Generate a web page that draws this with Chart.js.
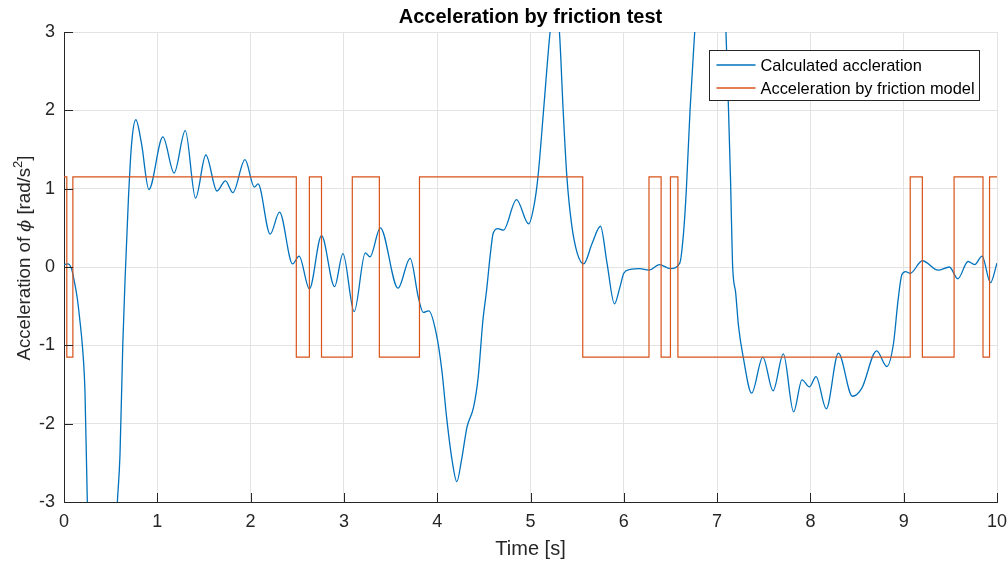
<!DOCTYPE html>
<html>
<head>
<meta charset="utf-8">
<script src="https://cdn.jsdelivr.net/npm/chart.js@4.4.1/dist/chart.umd.min.js"></script>
<style>
  html, body { margin: 0; padding: 0; background: #fff; }
  #wrap { width: 1008px; height: 565px; }
</style>
</head>
<body>
<div id="wrap"><canvas id="accelChart" width="1008" height="565"></canvas></div>
<script>
// calculated acceleration, sampled at the turning points of the signal
const timeCalc = [
  0.00, 0.04, 0.08, 0.11, 0.14, 0.17, 0.20, 0.225, 0.25, 0.30, 0.40, 0.50,
  0.572, 0.60, 0.63, 0.654, 0.69, 0.725, 0.77, 0.83, 0.91, 1.06, 1.18, 1.30,
  1.41, 1.52, 1.64, 1.73, 1.81, 1.94, 2.04, 2.08, 2.21, 2.31, 2.45, 2.52,
  2.63, 2.76, 2.90, 2.99, 3.11, 3.23, 3.28, 3.39, 3.58, 3.71, 3.80, 3.85,
  3.91, 3.99, 4.05, 4.10, 4.16, 4.21, 4.26, 4.32, 4.39, 4.44, 4.49, 4.53,
  4.57, 4.60, 4.65, 4.71, 4.85, 4.98, 5.04, 5.08, 5.14, 5.21, 5.26, 5.31,
  5.35, 5.39, 5.44, 5.50, 5.57, 5.66, 5.75, 5.82, 5.90, 5.96, 6.00, 6.07,
  6.17, 6.27, 6.38, 6.50, 6.60, 6.64, 6.67, 6.71, 6.76, 6.82, 6.92, 7.02,
  7.07, 7.095, 7.12, 7.145, 7.165, 7.20, 7.23, 7.28, 7.37, 7.49, 7.60, 7.71,
  7.82, 7.91, 7.99, 8.06, 8.17, 8.30, 8.45, 8.55, 8.71, 8.82, 8.89, 8.94,
  8.98, 9.02, 9.07, 9.20, 9.37, 9.49, 9.58, 9.69, 9.76, 9.84, 9.93, 10.00
];
const accelCalc = [
  0.03, 0.04, -0.02, -0.18, -0.38, -0.68, -1.05, -1.6, -3.0, -4.8, -5.6, -4.8,
  -3.0, -2.4, -1.0, -0.17, 0.86, 1.58, 1.88, 1.58, 0.99, 1.66, 1.20, 1.74,
  0.88, 1.43, 0.97, 1.10, 0.95, 1.37, 1.02, 1.06, 0.42, 0.70, 0.04, 0.14,
  -0.28, 0.40, -0.25, 0.17, -0.57, 0.18, 0.13, 0.50, -0.27, 0.11, -0.40, -0.58,
  -0.56, -0.85, -1.32, -1.91, -2.47, -2.74, -2.47, -2.04, -1.79, -1.40, -0.68, -0.29,
  0.17, 0.43, 0.49, 0.47, 0.86, 0.55, 0.80, 1.15, 2.0, 3.0, 3.45, 3.0,
  2.0, 1.15, 0.55, 0.18, 0.04, 0.30, 0.52, 0.05, -0.47, -0.25, -0.08, -0.03,
  -0.02, -0.04, 0.03, -0.02, 0.05, 0.43, 0.98, 2.0, 3.0, 4.1, 4.8, 4.6,
  3.8, 3.0, 2.1, 1.07, 0.05, -0.34, -0.76, -1.15, -1.61, -1.15, -1.58, -1.11,
  -1.85, -1.44, -1.53, -1.40, -1.81, -1.10, -1.65, -1.55, -1.07, -1.27, -0.98, -0.42,
  -0.10, -0.06, -0.08, 0.08, -0.04, 0.00, -0.15, 0.07, 0.03, 0.14, -0.20, 0.05
];

// friction model: each value holds until the next switching time
const timeModel = [0, 0.03, 0.095, 2.49, 2.63, 2.76, 3.09, 3.38, 3.81, 5.56,
  6.27, 6.40, 6.50, 6.58, 9.07, 9.20, 9.54, 9.85, 9.92, 10];
const accelModel = [1.15, -1.15, 1.15, -1.15, 1.15, -1.15, 1.15, -1.15, 1.15, -1.15,
  1.15, -1.15, 1.15, -1.15, 1.15, -1.15, 1.15, -1.15, 1.15, 1.15];

const xTicks = [0, 1, 2, 3, 4, 5, 6, 7, 8, 9, 10];
const yTicks = [-3, -2, -1, 0, 1, 2, 3];

const FONT = "'Liberation Sans', Arial, Helvetica, sans-serif";
const AXIS_COLOR = '#262626';

// inward tick marks, titles and the boxed legend
const axesDecor = {
  id: 'axesDecor',
  afterDatasetsDraw(chart) {
    const { ctx, chartArea: a, scales: { x, y } } = chart;
    ctx.save();

    ctx.strokeStyle = AXIS_COLOR;
    ctx.lineWidth = 1;
    ctx.beginPath();
    x.ticks.forEach(t => {
      const px = Math.round(x.getPixelForValue(t.value)) + 0.5;
      ctx.moveTo(px, a.bottom);
      ctx.lineTo(px, a.bottom - 9);
    });
    y.ticks.forEach(t => {
      const py = Math.round(y.getPixelForValue(t.value)) + 0.5;
      ctx.moveTo(a.left, py);
      ctx.lineTo(a.left + 9, py);
    });
    ctx.stroke();

    // legend
    const bw = 270, bh = 50;
    const bx = Math.round(a.right - 18 - bw) + 0.5, by = Math.round(a.top + 18) + 0.5;
    ctx.fillStyle = '#fff';
    ctx.fillRect(bx, by, bw, bh);
    ctx.strokeStyle = AXIS_COLOR;
    ctx.strokeRect(bx, by, bw, bh);
    ctx.font = '16.4px ' + FONT;
    ctx.textBaseline = 'middle';
    ctx.textAlign = 'left';
    chart.data.datasets.forEach((ds, i) => {
      const ly = by + 14.5 + i * 23;
      ctx.strokeStyle = ds.borderColor;
      ctx.lineWidth = 1.3;
      ctx.beginPath();
      ctx.moveTo(bx + 7, ly);
      ctx.lineTo(bx + 46, ly);
      ctx.stroke();
      ctx.fillStyle = '#000';
      ctx.fillText(ds.label, bx + 51, ly + 1);
    });
    ctx.restore();
  },
  afterDraw(chart) {
    const { ctx, chartArea: a } = chart;
    const cx = (a.left + a.right) / 2;
    ctx.save();
    ctx.textAlign = 'center';
    ctx.textBaseline = 'alphabetic';

    ctx.fillStyle = '#000';
    ctx.font = 'bold 20px ' + FONT;
    ctx.fillText('Acceleration by friction test', cx, a.top - 9);

    ctx.fillStyle = AXIS_COLOR;
    ctx.font = '20px ' + FONT;
    ctx.fillText('Time [s]', cx, a.bottom + 53);

    // y label with italic phi and a raised exponent
    const parts = [
      { t: 'Acceleration of ', f: '18.7px ' + FONT, dy: 0 },
      { t: '\u03D5', f: "italic 17.5px 'DejaVu Serif'", dy: 0 },
      { t: ' [rad/s', f: '18.7px ' + FONT, dy: 0 },
      { t: '2', f: '13px ' + FONT, dy: -8 },
      { t: ']', f: '18.7px ' + FONT, dy: 0 }
    ];
    let total = 0;
    parts.forEach(p => { ctx.font = p.f; p.w = ctx.measureText(p.t).width; total += p.w; });
    ctx.translate(30, (a.top + a.bottom) / 2 - 9);
    ctx.rotate(-Math.PI / 2);
    ctx.textAlign = 'left';
    let pos = -total / 2;
    parts.forEach(p => {
      ctx.font = p.f;
      ctx.fillText(p.t, pos, p.dy);
      pos += p.w;
    });
    ctx.restore();
  }
};

const data = {
  datasets: [
    {
      label: 'Calculated accleration',
      data: timeCalc.map((t, i) => ({ x: t, y: accelCalc[i] })),
      borderColor: '#0072BD',
      borderWidth: 1.3,
      pointRadius: 0,
      cubicInterpolationMode: 'monotone',
      order: 1
    },
    {
      label: 'Acceleration by friction model',
      data: timeModel.map((t, i) => ({ x: t, y: accelModel[i] })),
      borderColor: '#D95319',
      borderWidth: 1.2,
      pointRadius: 0,
      stepped: 'before',
      order: 0
    }
  ]
};

const config = {
  type: 'line',
  data,
  options: {
    responsive: false,
    animation: false,
    layout: { padding: { top: 32, right: 11, left: 0, bottom: 0 } },
    plugins: {
      legend: { display: false },
      tooltip: { enabled: false },
      title: { display: false }
    },
    scales: {
      x: {
        type: 'linear',
        min: 0,
        max: 10,
        afterBuildTicks: s => { s.ticks = xTicks.map(v => ({ value: v })); },
        afterFit: s => { s.height = 63; s.paddingLeft = 0; s.paddingRight = 0; },
        ticks: { font: { family: FONT, size: 18 }, color: AXIS_COLOR, padding: 9, maxRotation: 0, autoSkip: false },
        grid: { color: '#e3e3e3', drawTicks: false },
        border: { color: AXIS_COLOR }
      },
      y: {
        type: 'linear',
        min: -3,
        max: 3,
        afterBuildTicks: s => { s.ticks = yTicks.map(v => ({ value: v })); },
        afterFit: s => { s.width = 64; s.paddingTop = 0; s.paddingBottom = 0; },
        ticks: { font: { family: FONT, size: 18 }, color: AXIS_COLOR, padding: 9 },
        grid: { color: '#e3e3e3', drawTicks: false },
        border: { color: AXIS_COLOR }
      }
    }
  },
  plugins: [axesDecor]
};

const accelChart = new Chart(document.getElementById('accelChart'), config);
</script>
</body>
</html>
